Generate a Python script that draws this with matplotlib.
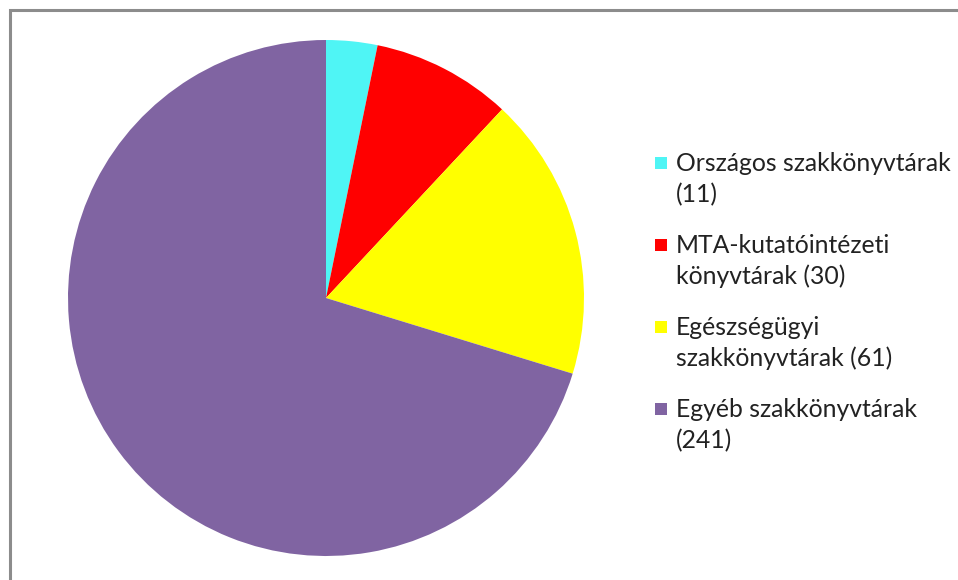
import matplotlib
matplotlib.use("Agg")
import matplotlib.pyplot as plt
from matplotlib.patches import Rectangle

labels = ["Országos szakkönyvtárak\n(11)", "MTA-kutatóintézeti\nkönyvtárak (30)",
          "Egészségügyi\nszakkönyvtárak (61)", "Egyéb szakkönyvtárak\n(241)"]
values = [11, 30, 61, 241]
colors = ["#4FF5F5", "#FF0000", "#FFFF00", "#8064A2"]

W, H = 958, 580
fig = plt.figure(figsize=(W/100, H/100), dpi=100)
fig.patch.set_facecolor("white")
# frame border (top & left visible)
fig.add_artist(Rectangle((10/W, -0.05), 1.1, 1 - 10/H + 0.05, transform=fig.transFigure,
                         fill=False, edgecolor="#8C8C8C", linewidth=2.2))

cx, cy, r = 326, 298, 258
ax = fig.add_axes([(cx - r)/W, (H - cy - r)/H, 2*r/W, 2*r/H])
ax.pie(values, colors=colors, startangle=90, counterclock=False,
       wedgeprops=dict(linewidth=0))
ax.set_aspect("equal")
ax.set_xlim(-1, 1); ax.set_ylim(-1, 1)

# legend drawn manually (square aligned with first text line)
sq = 12
for i, (lab, col) in enumerate(zip(labels, colors)):
    base = 171 + 82 * i
    fig.add_artist(Rectangle((655/W, 1 - (base - 2)/H), sq/W, sq/H,
                             transform=fig.transFigure, facecolor=col, edgecolor="none"))
    for j, line in enumerate(lab.split("\n")):
        fig.text(676/W, 1 - (base + 31 * j)/H, line, ha="left", va="baseline",
                 family="Lato", fontsize=17.8, color="#222222")

fig.savefig("out.png", dpi=100)
